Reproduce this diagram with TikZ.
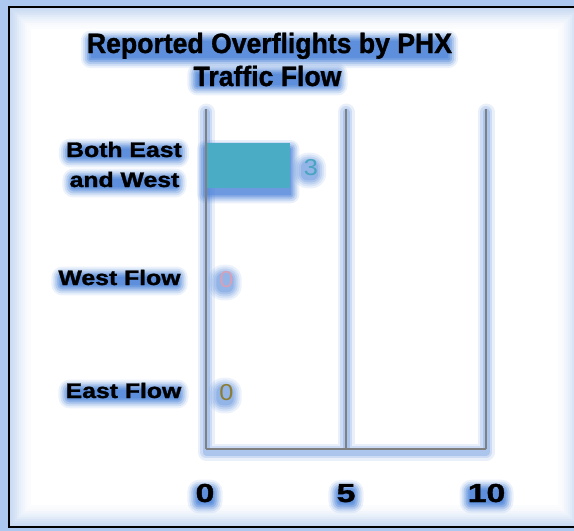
\documentclass[tikz,border=0pt]{standalone}
\usepackage{fontspec}
\setmainfont{Liberation Sans}[BoldFeatures={FakeBold=1.2}]
\usepackage{graphicx}
\usetikzlibrary{calc}
\pgfdeclarelayer{framelayer}
\pgfdeclarelayer{glowlayer}
\pgfsetlayers{framelayer,glowlayer,main}
\definecolor{glowcol}{RGB}{78,133,218}
\definecolor{framecol}{RGB}{100,150,222}
\definecolor{outercol}{RGB}{172,200,240}
\definecolor{barcol}{RGB}{75,172,198}
\definecolor{gridcol}{RGB}{128,128,128}
\definecolor{valteal}{RGB}{72,165,192}
\definecolor{valpink}{RGB}{215,160,185}
\definecolor{valolive}{RGB}{140,125,50}
\tikzset{
  titletext/.style={font=\fontsize{28}{30}\selectfont\bfseries, anchor=base, inner sep=0pt},
  cattext/.style={font=\fontsize{21}{24}\selectfont\bfseries, anchor=base, inner sep=0pt},
  ticktext/.style={font=\fontsize{26}{28}\selectfont\bfseries, anchor=base, inner sep=0pt},
  valtext/.style={font=\fontsize{23}{25}\selectfont, anchor=base, inner sep=0pt},
  gridline/.style={draw=gridcol, line width=2pt},
  barbox/.style={fill=barcol, draw=none, inner sep=0pt, anchor=north west},
}
% text node with a soft blue glow behind it (#5 = extra padding)
\newcommand\glowtext[5]{%
  \node[#3] (#1) at #2 {#4};
  \begin{pgfonlayer}{glowlayer}
  \foreach \gr/\gop in {8/0.1,6/0.16,4/0.24,2/0.34,0/0.45,-2/0.55} {
    \fill[glowcol, opacity=\gop, rounded corners={max(\gr+#5+4,1)*1pt}]
      ($(#1.north west)+({-\gr-#5},{-\gr-#5+4})$) rectangle ($(#1.south east)+({\gr+#5},{\gr+#5+3})$);
  }
  \end{pgfonlayer}
}
% lighter rounded glow for the small value labels
\newcommand\softglowtext[4]{%
  \node[#3] (#1) at #2 {#4};
  \begin{pgfonlayer}{glowlayer}
  \foreach \gr/\gop in {9/0.1,7/0.13,5/0.16,3/0.2,1/0.24} {
    \fill[glowcol, opacity=\gop, rounded corners={(\gr+6)*1pt}]
      ($(#1.north west)+({-\gr-2},{-\gr+3})$) rectangle ($(#1.south east)+({\gr-1},{\gr+4})$);
  }
  \end{pgfonlayer}
}
\begin{document}
\begin{tikzpicture}[x=1pt,y=-1pt]
\useasboundingbox (0,0) rectangle (574,531);
% frame
\begin{pgfonlayer}{framelayer}
  \fill[outercol] (0,0) rectangle (574,531);
  \fill[white] (9,7) rectangle (580,527);
  \foreach \fk/\fop in {1/0.35,3/0.32,5/0.28,7/0.24,9/0.19,11/0.15,13/0.11,15/0.08,17/0.05,19/0.03,21/0.02} {
    \draw[framecol, opacity=\fop, line width=2pt] ({9+\fk},{7+\fk}) rectangle ({580-\fk},{527-\fk});
  }
  \draw[black, line width=1.2pt] (9,7) rectangle (580,527);
\end{pgfonlayer}
% axes coordinates
\coordinate (a0t) at (206,109);
\coordinate (a0b) at (206,449);
\coordinate (a5t) at (346,109);
\coordinate (a5b) at (346,449);
\coordinate (a10t) at (486,109);
\coordinate (a10b) at (486,449);
% bar
\node[barbox, minimum width=84pt, minimum height=45pt] (bar) at (206,143) {};
\begin{pgfonlayer}{glowlayer}
  \foreach \gw/\gop in {17/0.12,12/0.18,7/0.26} {
    \draw[glowcol, line width=\gw pt, opacity=\gop, line cap=round, line join=round]
      ($(a0t)+(0,3)$) -- ($(a0b)+(0,3)$) -- ($(a10b)+(0,3)$) -- ($(a10t)+(0,3)$) ($(a5t)+(0,3)$) -- ($(a5b)+(0,3)$);
  }
  \foreach \gr/\gop in {9/0.12,7/0.18,5/0.25,3/0.35,1/0.5} {
    \fill[glowcol, opacity=\gop, rounded corners=\gr pt]
      ($(bar.north west)+(-\gr,{-\gr+6})$) rectangle ($(bar.south east)+(\gr,{\gr+6})$);
  }
\end{pgfonlayer}
\draw[gridline] (a0t) -- (a0b);
\draw[gridline] (a5t) -- (a5b);
\draw[gridline] (a10t) -- (a10b);
\draw[gridline] (a0b) -- (a10b);
% title
\glowtext{title1}{(269.5,53)}{titletext}{\scalebox{0.95}[1]{Reported Overflights by PHX}}{-2}
\glowtext{title2}{(267.5,86)}{titletext}{\scalebox{0.95}[1]{Traffic Flow}}{-2}
% categories
\glowtext{cat1a}{(124,157)}{cattext}{\scalebox{1.18}[1]{Both East}}{-1}
\glowtext{cat1b}{(124.5,187)}{cattext}{\scalebox{1.18}[1]{and West}}{-1}
\glowtext{cat2}{(119.5,285)}{cattext}{\scalebox{1.18}[1]{West Flow}}{-1}
\glowtext{cat3}{(123.5,398)}{cattext}{\scalebox{1.18}[1]{East Flow}}{-1}
% ticks
\glowtext{tick0}{(205,502)}{ticktext}{\scalebox{1.3}[1]{0}}{0}
\glowtext{tick5}{(346,502)}{ticktext}{\scalebox{1.3}[1]{5}}{0}
\glowtext{tick10}{(486.5,502)}{ticktext}{\scalebox{1.3}[1]{10}}{0}
% values
\softglowtext{val3}{(311,175)}{valtext,text=valteal}{\scalebox{1.1}[1]{3}}
\softglowtext{valw}{(226.5,287)}{valtext,text=valpink}{\scalebox{1.1}[1]{0}}
\softglowtext{vale}{(226.5,400)}{valtext,text=valolive}{\scalebox{1.1}[1]{0}}
\end{tikzpicture}
\end{document}
